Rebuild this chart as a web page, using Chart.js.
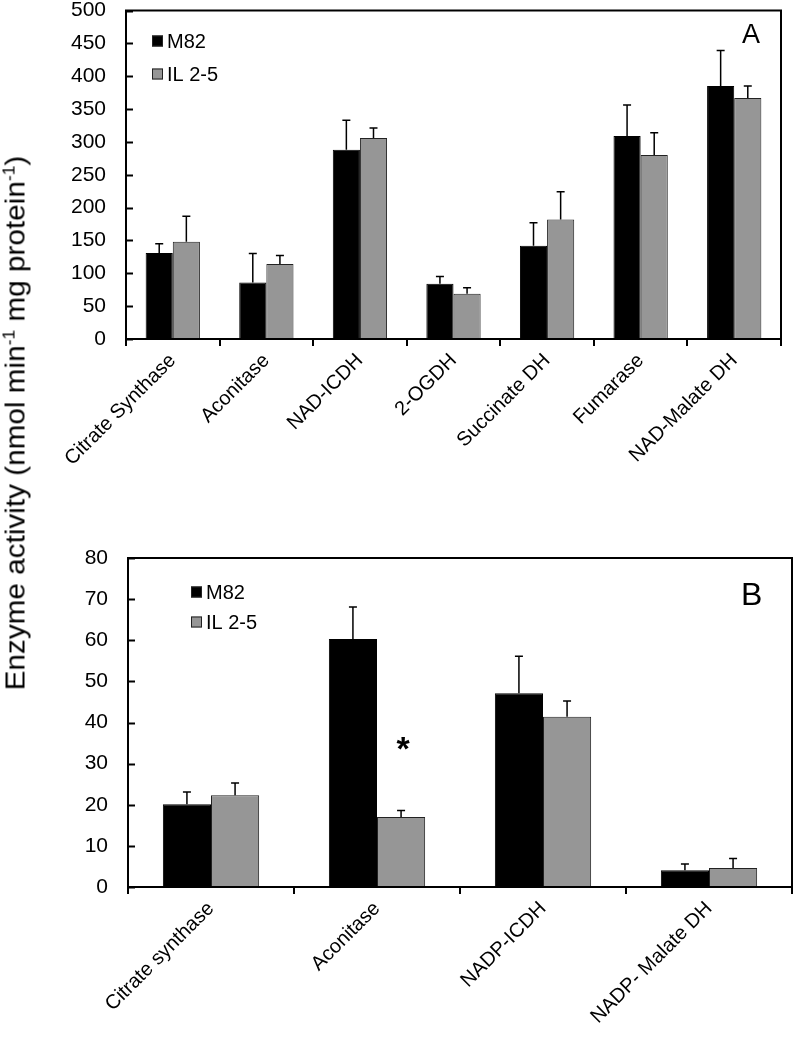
<!DOCTYPE html>
<html>
<head>
<meta charset="utf-8">
<script src="https://cdn.jsdelivr.net/npm/chart.js@4.4.1/dist/chart.umd.min.js"></script>
<style>
  body { margin: 0; background: #fff; }
  #wrap { position: relative; width: 797px; height: 1049px; font-family: Arial, "Liberation Sans", sans-serif; }
  #chartA { position: absolute; left: 0; top: 0; }
  #chartB { position: absolute; left: 0; top: 540px; }
  #ytitle {
    position: absolute; left: 16px; top: 423px; white-space: nowrap;
    transform: translate(-50%, -50%) rotate(-90deg) scaleX(1.1);
    font-size: 27px; color: #000;
  }
  #ytitle sup { font-size: 16px; vertical-align: 10px; line-height: 0; }
</style>
</head>
<body>
<div id="wrap">
  <canvas id="chartA" width="797" height="500"></canvas>
  <canvas id="chartB" width="797" height="509"></canvas>
  <div id="ytitle">Enzyme activity (nmol min<sup>-1</sup> mg protein<sup>-1</sup>)</div>
</div>
<script>
// panel A - mitochondrial TCA enzymes
const catsA = ['Citrate Synthase', 'Aconitase', 'NAD-ICDH', '2-OGDH', 'Succinate DH', 'Fumarase', 'NAD-Malate DH'];
const m82A = [131, 86, 288, 84, 142, 309, 385];
const il25A = [148, 114, 306, 69, 182, 280, 367];
const m82ErrA = [14, 44, 45, 11, 35, 47, 54];
const il25ErrA = [39, 13, 15, 9, 42, 34, 18];
const ticksA = [0, 50, 100, 150, 200, 250, 300, 350, 400, 450, 500];

// panel B - NADP enzymes
const catsB = ['Citrate synthase', 'Aconitase', 'NADP-ICDH', 'NADP- Malate DH'];
const m82B = [20.1, 60.3, 47.1, 4.1];
const il25B = [22.3, 17.0, 41.4, 4.6];
const m82ErrB = [3.0, 7.8, 9.0, 1.5];
const il25ErrB = [3.0, 1.6, 3.8, 2.3];
const sigB = ['', '*', '', ''];
const ticksB = [0, 10, 20, 30, 40, 50, 60, 70, 80];

const seriesNames = ['M82', 'IL 2-5'];
const FONT = 'Arial, "Liberation Sans", sans-serif';
const BLACK = '#000000';
const GREY = '#969696';

// error bars (upper only) + significance stars
const errorBars = {
  id: 'errorBars',
  afterDatasetsDraw(chart) {
    const ctx = chart.ctx;
    const y = chart.scales.y;
    ctx.save();
    ctx.strokeStyle = '#000';
    ctx.lineWidth = 1.5;
    chart.data.datasets.forEach((ds, i) => {
      const meta = chart.getDatasetMeta(i);
      meta.data.forEach((bar, j) => {
        const top = y.getPixelForValue(ds.data[j] + ds.errors[j]);
        const base = y.getPixelForValue(ds.data[j]);
        ctx.beginPath();
        ctx.moveTo(bar.x, base);
        ctx.lineTo(bar.x, top);
        ctx.moveTo(bar.x - 4, top);
        ctx.lineTo(bar.x + 4, top);
        ctx.stroke();
        if (ds.sig && ds.sig[j]) {
          ctx.fillStyle = '#000';
          ctx.font = 'bold 34px ' + FONT;
          ctx.textAlign = 'center';
          ctx.textBaseline = 'middle';
          ctx.fillText(ds.sig[j], bar.x + 2, top - 60);
        }
      });
    });
    ctx.restore();
  }
};

// frame, inward y ticks, legend, panel letter
const frame = {
  id: 'frame',
  afterDraw(chart, args, opts) {
    const ctx = chart.ctx;
    const a = chart.chartArea;
    const y = chart.scales.y;
    ctx.save();
    ctx.strokeStyle = '#000';
    ctx.lineWidth = 2;
    ctx.strokeRect(a.left, a.top, a.right - a.left, a.bottom - a.top);
    y.ticks.forEach(t => {
      const py = Math.round(y.getPixelForValue(t.value)) + 0.5;
      ctx.beginPath();
      ctx.moveTo(a.left, py);
      ctx.lineTo(a.left + 7, py);
      ctx.stroke();
    });
    // legend
    ctx.lineWidth = 1;
    ctx.font = '20px ' + FONT;
    ctx.textBaseline = 'middle';
    ctx.textAlign = 'left';
    chart.data.datasets.forEach((ds, i) => {
      const ly = opts.legendY + i * opts.legendGap;
      ctx.fillStyle = ds.backgroundColor;
      ctx.fillRect(opts.legendX, ly - 5.5, 11, 11);
      ctx.strokeStyle = '#222';
      ctx.strokeRect(opts.legendX + 0.5, ly - 5, 10, 10);
      ctx.fillStyle = '#000';
      ctx.fillText(ds.label, opts.legendX + 15, ly + 1);
    });
    ctx.font = opts.letterSize + 'px ' + FONT;
    ctx.textBaseline = 'alphabetic';
    ctx.fillText(opts.letter, opts.letterX, opts.letterY);
    ctx.restore();
  }
};

function makeChart(id, cats, s1, s2, e1, e2, tickVals, box, extra, sig) {
  return new Chart(document.getElementById(id), {
    type: 'bar',
    data: {
      labels: cats,
      datasets: [
        { label: seriesNames[0], data: s1, errors: e1, backgroundColor: BLACK, borderColor: '#000', borderWidth: 1 },
        { label: seriesNames[1], data: s2, errors: e2, sig: sig, backgroundColor: GREY, borderColor: '#222', borderWidth: 1 }
      ]
    },
    options: {
      responsive: false,
      animation: false,
      layout: { padding: { top: box.top, right: box.right, left: 0, bottom: 0 } },
      datasets: { bar: { categoryPercentage: 0.58, barPercentage: 1.0 } },
      plugins: {
        legend: { display: false },
        tooltip: { enabled: false },
        frame: extra
      },
      scales: {
        x: {
          grid: { display: true, offset: true, drawOnChartArea: false, drawTicks: true, tickLength: 7, color: '#000', lineWidth: 2 },
          border: { display: true, color: '#000', width: 2 },
          ticks: { color: '#000', font: { family: FONT, size: 20 }, minRotation: 45, maxRotation: 45, padding: 3, autoSkip: false },
          afterFit: s => { s.height = box.xHeight; }
        },
        y: {
          min: tickVals[0],
          max: tickVals[tickVals.length - 1],
          afterBuildTicks: s => { s.ticks = tickVals.map(v => ({ value: v })); },
          // invisible tick marks give the label gap without adding top padding
          grid: { display: true, drawOnChartArea: false, drawTicks: true, tickLength: 20, color: 'rgba(0,0,0,0)' },
          border: { display: true, color: '#000', width: 2 },
          ticks: { color: '#000', font: { family: FONT, size: 21, lineHeight: 1 }, padding: 0 },
          afterFit: s => { s.width = box.yWidth; }
        }
      }
    },
    plugins: [errorBars, frame]
  });
}

makeChart('chartA', catsA, m82A, il25A, m82ErrA, il25ErrA, ticksA,
  { top: 10, right: 16, yWidth: 126, xHeight: 161 },
  { legendX: 152, legendY: 41, legendGap: 33, letter: 'A', letterX: 742, letterY: 43, letterSize: 27 });

makeChart('chartB', catsB, m82B, il25B, m82ErrB, il25ErrB, ticksB,
  { top: 18, right: 5, yWidth: 128, xHeight: 162 },
  { legendX: 191, legendY: 52, legendGap: 30, letter: 'B', letterX: 741, letterY: 65, letterSize: 32 }, sigB);
</script>
</body>
</html>
